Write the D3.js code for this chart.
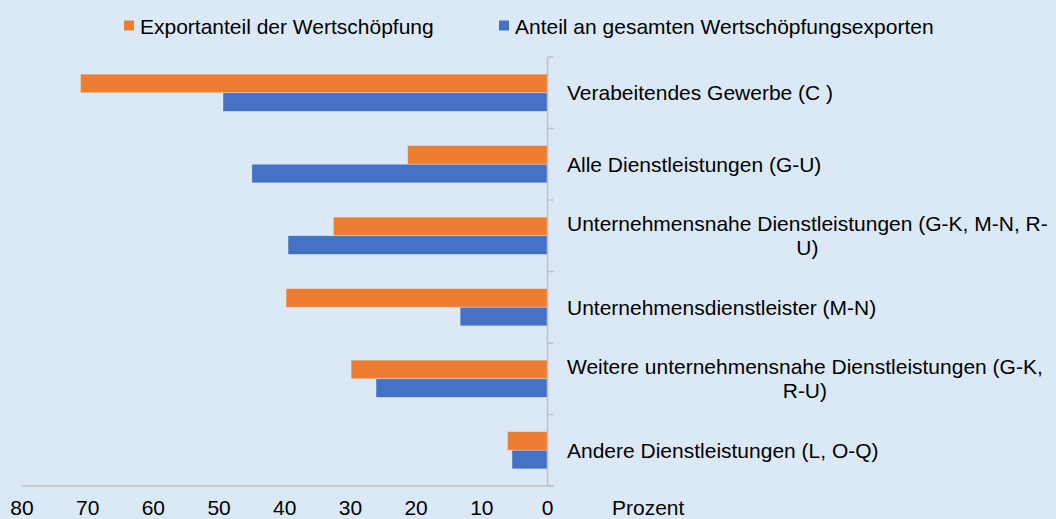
<!DOCTYPE html>
<html>
<head>
<meta charset="utf-8">
<script src="https://cdn.jsdelivr.net/npm/d3@7.9.0/dist/d3.min.js"></script>
<style>
  body { margin: 0; background: #dbe9f6; }
  svg { display: block; font-family: "Liberation Sans", Arial, sans-serif; }
</style>
</head>
<body>
<svg id="chart" width="1056" height="519"></svg>
<script>
// Categories (top to bottom), label lines as wrapped in the original
const categories = [
  ["Verabeitendes Gewerbe (C )"],
  ["Alle Dienstleistungen (G-U)"],
  ["Unternehmensnahe Dienstleistungen (G-K, M-N, R-", "U)"],
  ["Unternehmensdienstleister (M-N)"],
  ["Weitere unternehmensnahe Dienstleistungen (G-K,", "R-U)"],
  ["Andere Dienstleistungen (L, O-Q)"]
];
const seriesNames = ["Exportanteil der Wertschöpfung", "Anteil an gesamten Wertschöpfungsexporten"];
const exportanteil = [71.1, 21.3, 32.6, 39.8, 29.9, 6.1];
const anteilGesamt = [49.4, 45.0, 39.5, 13.3, 26.1, 5.4];
const xTicks = [80, 70, 60, 50, 40, 30, 20, 10, 0];
const colors = ["#ed7d31", "#4472c4"];

const fontSize = 20;
const stretch = 1.05; // text in the original is slightly wider than Liberation Sans

const svg = d3.select("#chart");
svg.append("rect").attr("width", 1056).attr("height", 519).attr("fill", "#dbe9f6");

const x = d3.scaleLinear().domain([0, 80]).range([547.5, 22]);
const y = d3.scaleBand().domain(d3.range(categories.length)).range([57, 486]);
const inner = d3.scaleBand().domain([0, 1]).range([0, y.bandwidth()]).paddingOuter(0.92).paddingInner(0);

// helper: stretched text anchored at (tx, ty)
function addText(parent, tx, ty, str, anchor) {
  return parent.append("text")
    .attr("transform", `translate(${tx},${ty}) scale(${stretch},1)`)
    .attr("text-anchor", anchor || "start")
    .attr("font-size", fontSize)
    .attr("fill", "#000")
    .text(str);
}

// bars
const g = svg.append("g");
categories.forEach((c, i) => {
  [exportanteil[i], anteilGesamt[i]].forEach((v, s) => {
    g.append("rect")
      .attr("x", x(v))
      .attr("y", y(i) + inner(s))
      .attr("width", x(0) - x(v))
      .attr("height", inner.bandwidth())
      .attr("fill", colors[s])
      .attr("stroke", "#f2f2f2")
      .attr("stroke-opacity", 0.5)
      .attr("stroke-width", 0.75);
  });
});

// vertical axis at zero with ticks pointing right
const axisColor = "#bfbfbf";
svg.append("line")
  .attr("x1", x(0)).attr("x2", x(0))
  .attr("y1", 57).attr("y2", 486)
  .attr("stroke", axisColor).attr("stroke-width", 1.5);
const tickYs = d3.range(categories.length + 1).map(i => 57 + i * y.step());
svg.selectAll(".ytick").data(tickYs).enter().append("line")
  .attr("x1", x(0)).attr("x2", x(0) + 6)
  .attr("y1", d => d).attr("y2", d => d)
  .attr("stroke", axisColor).attr("stroke-width", 1.5);

// horizontal axis line
svg.append("line")
  .attr("x1", x(80)).attr("x2", x(0) + 6.5)
  .attr("y1", 486).attr("y2", 486)
  .attr("stroke", axisColor).attr("stroke-width", 1.5);

// x tick labels, kept just inside the bottom edge
xTicks.forEach(d => addText(svg, x(d), 514.5, d, "middle"));
addText(svg, 612, 514.5, "Prozent");

// category labels: block starts right of axis, lines centered within block
const labelLeft = 567;
const lineH = 24.5;
categories.forEach((lines, i) => {
  const cy = y(i) + y.bandwidth() / 2;
  const t = svg.append("text")
    .attr("transform", `translate(${labelLeft},0) scale(${stretch},1)`)
    .attr("font-size", fontSize).attr("fill", "#000")
    .attr("text-anchor", "middle");
  const spans = lines.map((ln, k) => t.append("tspan")
    .attr("y", cy + (k - (lines.length - 1) / 2) * lineH + 7.3)
    .text(ln));
  const w = d3.max(spans, s => s.node().getComputedTextLength());
  spans.forEach(s => s.attr("x", w / 2));
});

// legend
const legend = svg.append("g");
const legendItems = [{ x: 124, name: seriesNames[0], c: colors[0] }, { x: 499, name: seriesNames[1], c: colors[1] }];
legendItems.forEach(d => {
  legend.append("rect").attr("x", d.x).attr("y", 20.5).attr("width", 10).attr("height", 10).attr("fill", d.c);
  addText(legend, d.x + 16, 34, d.name);
});
</script>
</body>
</html>
